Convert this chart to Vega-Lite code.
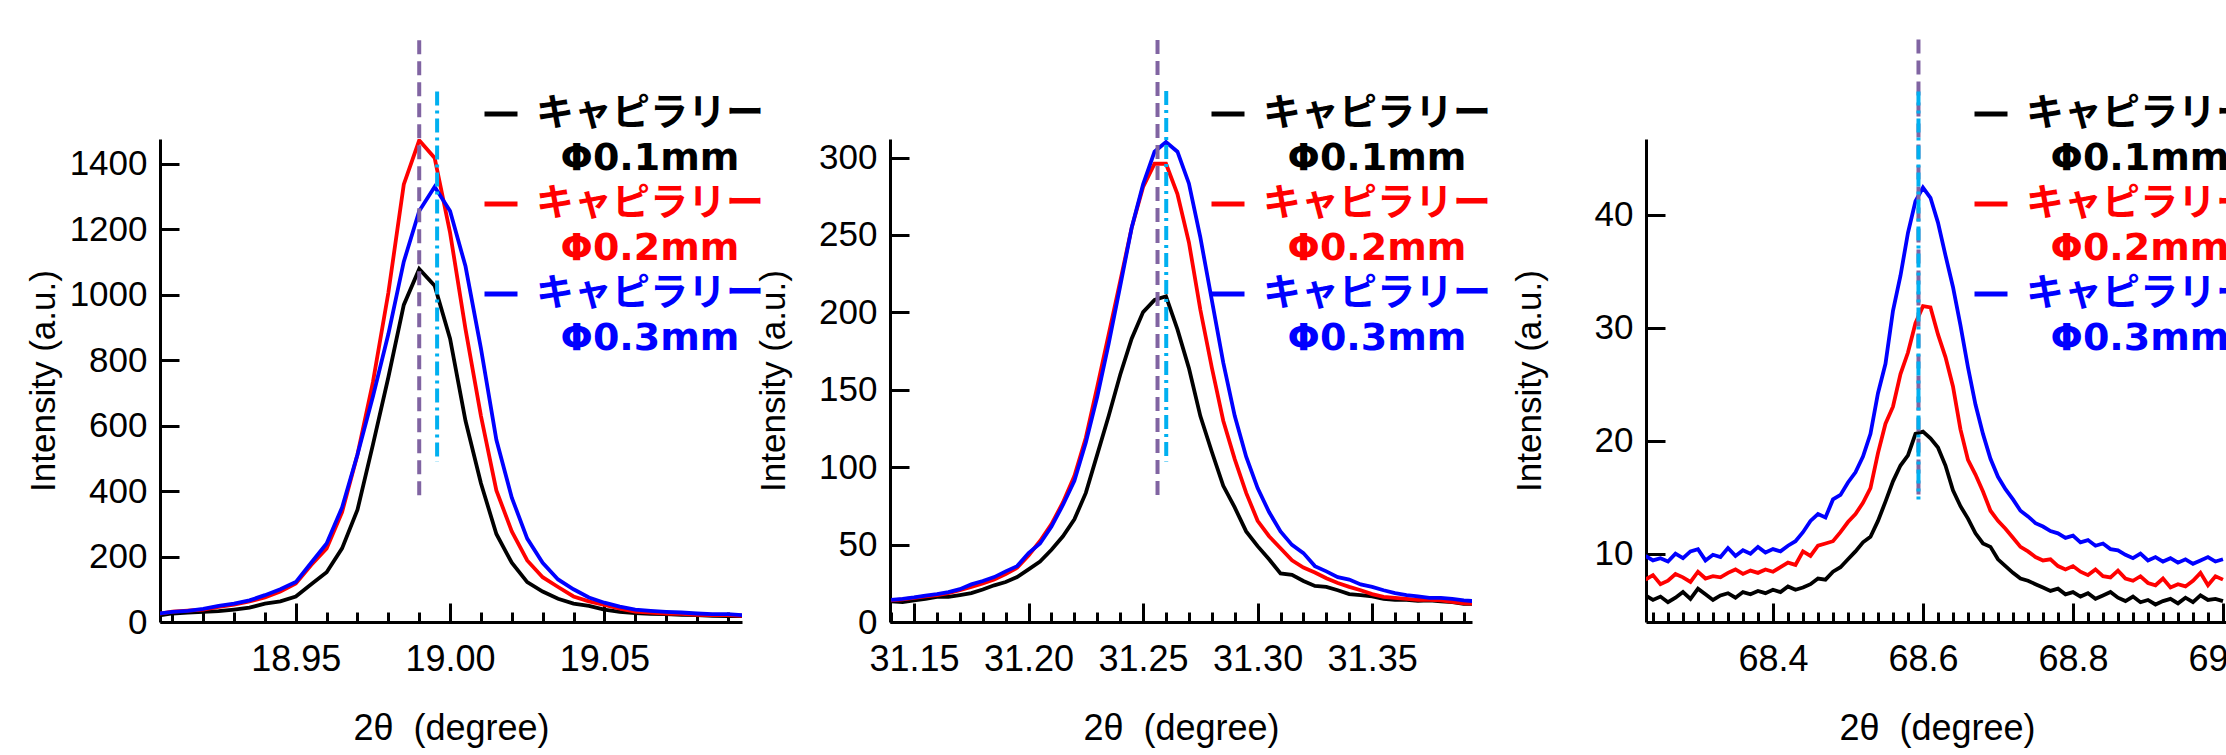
{
"$schema":"https://vega.github.io/schema/vega-lite/v6.json",
"padding":{"left":26,"top":37,"right":0,"bottom":4},
"datasets":{
"p1":[
{"s":"Φ0.1mm","x":18.905,"y":19},{"s":"Φ0.1mm","x":18.91,"y":26},{"s":"Φ0.1mm","x":18.915,"y":29},{"s":"Φ0.1mm","x":18.92,"y":31},{"s":"Φ0.1mm","x":18.925,"y":33},{"s":"Φ0.1mm","x":18.93,"y":38},{"s":"Φ0.1mm","x":18.935,"y":44},{"s":"Φ0.1mm","x":18.94,"y":56},{"s":"Φ0.1mm","x":18.945,"y":63},{"s":"Φ0.1mm","x":18.95,"y":78},{"s":"Φ0.1mm","x":18.955,"y":115},{"s":"Φ0.1mm","x":18.96,"y":152},{"s":"Φ0.1mm","x":18.965,"y":225},{"s":"Φ0.1mm","x":18.97,"y":343},{"s":"Φ0.1mm","x":18.975,"y":542},{"s":"Φ0.1mm","x":18.98,"y":748},{"s":"Φ0.1mm","x":18.985,"y":969},{"s":"Φ0.1mm","x":18.99,"y":1079},{"s":"Φ0.1mm","x":18.995,"y":1028},{"s":"Φ0.1mm","x":19.0,"y":866},{"s":"Φ0.1mm","x":19.005,"y":615},{"s":"Φ0.1mm","x":19.01,"y":424},{"s":"Φ0.1mm","x":19.015,"y":269},{"s":"Φ0.1mm","x":19.02,"y":181},{"s":"Φ0.1mm","x":19.025,"y":122},{"s":"Φ0.1mm","x":19.03,"y":93},{"s":"Φ0.1mm","x":19.035,"y":71},{"s":"Φ0.1mm","x":19.04,"y":56},{"s":"Φ0.1mm","x":19.045,"y":49},{"s":"Φ0.1mm","x":19.05,"y":38},{"s":"Φ0.1mm","x":19.055,"y":31},{"s":"Φ0.1mm","x":19.06,"y":27},{"s":"Φ0.1mm","x":19.065,"y":25},{"s":"Φ0.1mm","x":19.07,"y":24},{"s":"Φ0.1mm","x":19.075,"y":22},{"s":"Φ0.1mm","x":19.08,"y":21},{"s":"Φ0.1mm","x":19.085,"y":19},{"s":"Φ0.1mm","x":19.09,"y":18},{"s":"Φ0.1mm","x":19.095,"y":18},
{"s":"Φ0.2mm","x":18.905,"y":24},{"s":"Φ0.2mm","x":18.91,"y":32},{"s":"Φ0.2mm","x":18.915,"y":35},{"s":"Φ0.2mm","x":18.92,"y":38},{"s":"Φ0.2mm","x":18.925,"y":46},{"s":"Φ0.2mm","x":18.93,"y":53},{"s":"Φ0.2mm","x":18.935,"y":63},{"s":"Φ0.2mm","x":18.94,"y":75},{"s":"Φ0.2mm","x":18.945,"y":93},{"s":"Φ0.2mm","x":18.95,"y":118},{"s":"Φ0.2mm","x":18.955,"y":174},{"s":"Φ0.2mm","x":18.96,"y":225},{"s":"Φ0.2mm","x":18.965,"y":336},{"s":"Φ0.2mm","x":18.97,"y":512},{"s":"Φ0.2mm","x":18.975,"y":733},{"s":"Φ0.2mm","x":18.98,"y":1006},{"s":"Φ0.2mm","x":18.985,"y":1337},{"s":"Φ0.2mm","x":18.99,"y":1472},{"s":"Φ0.2mm","x":18.995,"y":1418},{"s":"Φ0.2mm","x":19.0,"y":1190},{"s":"Φ0.2mm","x":19.005,"y":895},{"s":"Φ0.2mm","x":19.01,"y":630},{"s":"Φ0.2mm","x":19.015,"y":402},{"s":"Φ0.2mm","x":19.02,"y":277},{"s":"Φ0.2mm","x":19.025,"y":188},{"s":"Φ0.2mm","x":19.03,"y":137},{"s":"Φ0.2mm","x":19.035,"y":107},{"s":"Φ0.2mm","x":19.04,"y":78},{"s":"Φ0.2mm","x":19.045,"y":63},{"s":"Φ0.2mm","x":19.05,"y":52},{"s":"Φ0.2mm","x":19.055,"y":41},{"s":"Φ0.2mm","x":19.06,"y":32},{"s":"Φ0.2mm","x":19.065,"y":29},{"s":"Φ0.2mm","x":19.07,"y":26},{"s":"Φ0.2mm","x":19.075,"y":25},{"s":"Φ0.2mm","x":19.08,"y":22},{"s":"Φ0.2mm","x":19.085,"y":21},{"s":"Φ0.2mm","x":19.09,"y":21},{"s":"Φ0.2mm","x":19.095,"y":19},
{"s":"Φ0.3mm","x":18.905,"y":25},{"s":"Φ0.3mm","x":18.91,"y":31},{"s":"Φ0.3mm","x":18.915,"y":34},{"s":"Φ0.3mm","x":18.92,"y":40},{"s":"Φ0.3mm","x":18.925,"y":49},{"s":"Φ0.3mm","x":18.93,"y":56},{"s":"Φ0.3mm","x":18.935,"y":66},{"s":"Φ0.3mm","x":18.94,"y":82},{"s":"Φ0.3mm","x":18.945,"y":100},{"s":"Φ0.3mm","x":18.95,"y":122},{"s":"Φ0.3mm","x":18.955,"y":181},{"s":"Φ0.3mm","x":18.96,"y":240},{"s":"Φ0.3mm","x":18.965,"y":350},{"s":"Φ0.3mm","x":18.97,"y":512},{"s":"Φ0.3mm","x":18.975,"y":689},{"s":"Φ0.3mm","x":18.98,"y":880},{"s":"Φ0.3mm","x":18.985,"y":1101},{"s":"Φ0.3mm","x":18.99,"y":1256},{"s":"Φ0.3mm","x":18.995,"y":1330},{"s":"Φ0.3mm","x":19.0,"y":1256},{"s":"Φ0.3mm","x":19.005,"y":1087},{"s":"Φ0.3mm","x":19.01,"y":836},{"s":"Φ0.3mm","x":19.015,"y":557},{"s":"Φ0.3mm","x":19.02,"y":380},{"s":"Φ0.3mm","x":19.025,"y":255},{"s":"Φ0.3mm","x":19.03,"y":181},{"s":"Φ0.3mm","x":19.035,"y":130},{"s":"Φ0.3mm","x":19.04,"y":100},{"s":"Φ0.3mm","x":19.045,"y":75},{"s":"Φ0.3mm","x":19.05,"y":59},{"s":"Φ0.3mm","x":19.055,"y":47},{"s":"Φ0.3mm","x":19.06,"y":38},{"s":"Φ0.3mm","x":19.065,"y":34},{"s":"Φ0.3mm","x":19.07,"y":31},{"s":"Φ0.3mm","x":19.075,"y":29},{"s":"Φ0.3mm","x":19.08,"y":26},{"s":"Φ0.3mm","x":19.085,"y":24},{"s":"Φ0.3mm","x":19.09,"y":24},{"s":"Φ0.3mm","x":19.095,"y":21}
],
"p2":[
{"s":"Φ0.1mm","x":31.14,"y":13.4},{"s":"Φ0.1mm","x":31.145,"y":12.8},{"s":"Φ0.1mm","x":31.15,"y":14},{"s":"Φ0.1mm","x":31.155,"y":15},{"s":"Φ0.1mm","x":31.16,"y":16.2},{"s":"Φ0.1mm","x":31.165,"y":16.2},{"s":"Φ0.1mm","x":31.17,"y":17.4},{"s":"Φ0.1mm","x":31.175,"y":18.7},{"s":"Φ0.1mm","x":31.18,"y":21},{"s":"Φ0.1mm","x":31.185,"y":23.7},{"s":"Φ0.1mm","x":31.19,"y":25.8},{"s":"Φ0.1mm","x":31.195,"y":29},{"s":"Φ0.1mm","x":31.2,"y":34},{"s":"Φ0.1mm","x":31.205,"y":39},{"s":"Φ0.1mm","x":31.21,"y":46.7},{"s":"Φ0.1mm","x":31.215,"y":55.4},{"s":"Φ0.1mm","x":31.22,"y":66.3},{"s":"Φ0.1mm","x":31.225,"y":83.4},{"s":"Φ0.1mm","x":31.23,"y":108.3},{"s":"Φ0.1mm","x":31.235,"y":133.2},{"s":"Φ0.1mm","x":31.24,"y":159.7},{"s":"Φ0.1mm","x":31.245,"y":183},{"s":"Φ0.1mm","x":31.25,"y":200.2},{"s":"Φ0.1mm","x":31.255,"y":208},{"s":"Φ0.1mm","x":31.26,"y":210.4},{"s":"Φ0.1mm","x":31.265,"y":189},{"s":"Φ0.1mm","x":31.27,"y":164},{"s":"Φ0.1mm","x":31.275,"y":133},{"s":"Φ0.1mm","x":31.28,"y":110},{"s":"Φ0.1mm","x":31.285,"y":88},{"s":"Φ0.1mm","x":31.29,"y":74},{"s":"Φ0.1mm","x":31.295,"y":58.5},{"s":"Φ0.1mm","x":31.3,"y":49},{"s":"Φ0.1mm","x":31.305,"y":40.5},{"s":"Φ0.1mm","x":31.31,"y":31.4},{"s":"Φ0.1mm","x":31.315,"y":30.5},{"s":"Φ0.1mm","x":31.32,"y":26.5},{"s":"Φ0.1mm","x":31.325,"y":23.3},{"s":"Φ0.1mm","x":31.33,"y":22.7},{"s":"Φ0.1mm","x":31.335,"y":20.5},{"s":"Φ0.1mm","x":31.34,"y":18},{"s":"Φ0.1mm","x":31.345,"y":17.4},{"s":"Φ0.1mm","x":31.35,"y":16.5},{"s":"Φ0.1mm","x":31.355,"y":15},{"s":"Φ0.1mm","x":31.36,"y":14.3},{"s":"Φ0.1mm","x":31.365,"y":14.3},{"s":"Φ0.1mm","x":31.37,"y":13.7},{"s":"Φ0.1mm","x":31.375,"y":14},{"s":"Φ0.1mm","x":31.38,"y":13.4},{"s":"Φ0.1mm","x":31.385,"y":12.8},{"s":"Φ0.1mm","x":31.39,"y":11.8},{"s":"Φ0.1mm","x":31.395,"y":11.8},
{"s":"Φ0.2mm","x":31.14,"y":14},{"s":"Φ0.2mm","x":31.145,"y":14.6},{"s":"Φ0.2mm","x":31.15,"y":15.6},{"s":"Φ0.2mm","x":31.155,"y":16.5},{"s":"Φ0.2mm","x":31.16,"y":17.4},{"s":"Φ0.2mm","x":31.165,"y":18.7},{"s":"Φ0.2mm","x":31.17,"y":20.5},{"s":"Φ0.2mm","x":31.175,"y":22.7},{"s":"Φ0.2mm","x":31.18,"y":24.9},{"s":"Φ0.2mm","x":31.185,"y":27.4},{"s":"Φ0.2mm","x":31.19,"y":31},{"s":"Φ0.2mm","x":31.195,"y":35},{"s":"Φ0.2mm","x":31.2,"y":43},{"s":"Φ0.2mm","x":31.205,"y":52.3},{"s":"Φ0.2mm","x":31.21,"y":63.2},{"s":"Φ0.2mm","x":31.215,"y":77.2},{"s":"Φ0.2mm","x":31.22,"y":94.3},{"s":"Φ0.2mm","x":31.225,"y":119},{"s":"Φ0.2mm","x":31.23,"y":152},{"s":"Φ0.2mm","x":31.235,"y":186},{"s":"Φ0.2mm","x":31.24,"y":220},{"s":"Φ0.2mm","x":31.245,"y":254.6},{"s":"Φ0.2mm","x":31.25,"y":281},{"s":"Φ0.2mm","x":31.255,"y":296},{"s":"Φ0.2mm","x":31.26,"y":296},{"s":"Φ0.2mm","x":31.265,"y":276.4},{"s":"Φ0.2mm","x":31.27,"y":245.3},{"s":"Φ0.2mm","x":31.275,"y":201.7},{"s":"Φ0.2mm","x":31.28,"y":164.4},{"s":"Φ0.2mm","x":31.285,"y":130},{"s":"Φ0.2mm","x":31.29,"y":105.2},{"s":"Φ0.2mm","x":31.295,"y":83.4},{"s":"Φ0.2mm","x":31.3,"y":65.4},{"s":"Φ0.2mm","x":31.305,"y":55.4},{"s":"Φ0.2mm","x":31.31,"y":47.6},{"s":"Φ0.2mm","x":31.315,"y":39.8},{"s":"Φ0.2mm","x":31.32,"y":35.2},{"s":"Φ0.2mm","x":31.325,"y":32},{"s":"Φ0.2mm","x":31.33,"y":28.3},{"s":"Φ0.2mm","x":31.335,"y":25.2},{"s":"Φ0.2mm","x":31.34,"y":22.7},{"s":"Φ0.2mm","x":31.345,"y":20.5},{"s":"Φ0.2mm","x":31.35,"y":18},{"s":"Φ0.2mm","x":31.355,"y":16.2},{"s":"Φ0.2mm","x":31.36,"y":15.6},{"s":"Φ0.2mm","x":31.365,"y":15},{"s":"Φ0.2mm","x":31.37,"y":14.3},{"s":"Φ0.2mm","x":31.375,"y":14.3},{"s":"Φ0.2mm","x":31.38,"y":14},{"s":"Φ0.2mm","x":31.385,"y":13},{"s":"Φ0.2mm","x":31.39,"y":12.1},{"s":"Φ0.2mm","x":31.395,"y":11.8},
{"s":"Φ0.3mm","x":31.14,"y":14.3},{"s":"Φ0.3mm","x":31.145,"y":15},{"s":"Φ0.3mm","x":31.15,"y":15.9},{"s":"Φ0.3mm","x":31.155,"y":17.1},{"s":"Φ0.3mm","x":31.16,"y":18},{"s":"Φ0.3mm","x":31.165,"y":19.3},{"s":"Φ0.3mm","x":31.17,"y":21.2},{"s":"Φ0.3mm","x":31.175,"y":24.3},{"s":"Φ0.3mm","x":31.18,"y":26.5},{"s":"Φ0.3mm","x":31.185,"y":29},{"s":"Φ0.3mm","x":31.19,"y":32.7},{"s":"Φ0.3mm","x":31.195,"y":36.1},{"s":"Φ0.3mm","x":31.2,"y":44.5},{"s":"Φ0.3mm","x":31.205,"y":50.7},{"s":"Φ0.3mm","x":31.21,"y":61.6},{"s":"Φ0.3mm","x":31.215,"y":75.6},{"s":"Φ0.3mm","x":31.22,"y":91.2},{"s":"Φ0.3mm","x":31.225,"y":116},{"s":"Φ0.3mm","x":31.23,"y":145.7},{"s":"Φ0.3mm","x":31.235,"y":180},{"s":"Φ0.3mm","x":31.24,"y":217},{"s":"Φ0.3mm","x":31.245,"y":254.6},{"s":"Φ0.3mm","x":31.25,"y":282.7},{"s":"Φ0.3mm","x":31.255,"y":303.8},{"s":"Φ0.3mm","x":31.26,"y":310},{"s":"Φ0.3mm","x":31.265,"y":303.8},{"s":"Φ0.3mm","x":31.27,"y":283.3},{"s":"Φ0.3mm","x":31.275,"y":248.4},{"s":"Φ0.3mm","x":31.28,"y":208},{"s":"Φ0.3mm","x":31.285,"y":167.5},{"s":"Φ0.3mm","x":31.29,"y":133.2},{"s":"Φ0.3mm","x":31.295,"y":106.8},{"s":"Φ0.3mm","x":31.3,"y":86.5},{"s":"Φ0.3mm","x":31.305,"y":71},{"s":"Φ0.3mm","x":31.31,"y":58.5},{"s":"Φ0.3mm","x":31.315,"y":49.8},{"s":"Φ0.3mm","x":31.32,"y":44.5},{"s":"Φ0.3mm","x":31.325,"y":36.1},{"s":"Φ0.3mm","x":31.33,"y":32.7},{"s":"Φ0.3mm","x":31.335,"y":29},{"s":"Φ0.3mm","x":31.34,"y":27.4},{"s":"Φ0.3mm","x":31.345,"y":24.3},{"s":"Φ0.3mm","x":31.35,"y":22.7},{"s":"Φ0.3mm","x":31.355,"y":20.5},{"s":"Φ0.3mm","x":31.36,"y":18.7},{"s":"Φ0.3mm","x":31.365,"y":17.4},{"s":"Φ0.3mm","x":31.37,"y":16.5},{"s":"Φ0.3mm","x":31.375,"y":15.6},{"s":"Φ0.3mm","x":31.38,"y":15.6},{"s":"Φ0.3mm","x":31.385,"y":15},{"s":"Φ0.3mm","x":31.39,"y":14},{"s":"Φ0.3mm","x":31.395,"y":13.4}
],
"p3":[
{"s":"Φ0.1mm","x":68.23,"y":6.3},{"s":"Φ0.1mm","x":68.24,"y":5.9},{"s":"Φ0.1mm","x":68.25,"y":6.2},{"s":"Φ0.1mm","x":68.26,"y":5.7},{"s":"Φ0.1mm","x":68.27,"y":6.1},{"s":"Φ0.1mm","x":68.28,"y":6.6},{"s":"Φ0.1mm","x":68.29,"y":6.0},{"s":"Φ0.1mm","x":68.3,"y":6.9},{"s":"Φ0.1mm","x":68.31,"y":6.4},{"s":"Φ0.1mm","x":68.32,"y":5.9},
{"s":"Φ0.1mm","x":68.33,"y":6.3},{"s":"Φ0.1mm","x":68.34,"y":6.5},{"s":"Φ0.1mm","x":68.35,"y":6.1},{"s":"Φ0.1mm","x":68.36,"y":6.6},{"s":"Φ0.1mm","x":68.37,"y":6.4},{"s":"Φ0.1mm","x":68.38,"y":6.7},{"s":"Φ0.1mm","x":68.39,"y":6.5},{"s":"Φ0.1mm","x":68.4,"y":6.8},{"s":"Φ0.1mm","x":68.41,"y":6.6},{"s":"Φ0.1mm","x":68.42,"y":7.1},
{"s":"Φ0.1mm","x":68.43,"y":6.8},{"s":"Φ0.1mm","x":68.44,"y":7.0},{"s":"Φ0.1mm","x":68.45,"y":7.3},{"s":"Φ0.1mm","x":68.46,"y":7.8},{"s":"Φ0.1mm","x":68.47,"y":7.7},{"s":"Φ0.1mm","x":68.48,"y":8.4},{"s":"Φ0.1mm","x":68.49,"y":8.8},{"s":"Φ0.1mm","x":68.5,"y":9.5},{"s":"Φ0.1mm","x":68.51,"y":10.2},{"s":"Φ0.1mm","x":68.52,"y":11.0},
{"s":"Φ0.1mm","x":68.53,"y":11.5},{"s":"Φ0.1mm","x":68.54,"y":12.9},{"s":"Φ0.1mm","x":68.55,"y":14.6},{"s":"Φ0.1mm","x":68.56,"y":16.4},{"s":"Φ0.1mm","x":68.57,"y":17.8},{"s":"Φ0.1mm","x":68.58,"y":18.7},{"s":"Φ0.1mm","x":68.59,"y":20.6},{"s":"Φ0.1mm","x":68.6,"y":20.8},{"s":"Φ0.1mm","x":68.61,"y":20.2},{"s":"Φ0.1mm","x":68.62,"y":19.4},
{"s":"Φ0.1mm","x":68.63,"y":17.8},{"s":"Φ0.1mm","x":68.64,"y":15.6},{"s":"Φ0.1mm","x":68.65,"y":14.2},{"s":"Φ0.1mm","x":68.66,"y":13.1},{"s":"Φ0.1mm","x":68.67,"y":11.8},{"s":"Φ0.1mm","x":68.68,"y":10.9},{"s":"Φ0.1mm","x":68.69,"y":10.6},{"s":"Φ0.1mm","x":68.7,"y":9.5},{"s":"Φ0.1mm","x":68.71,"y":8.9},{"s":"Φ0.1mm","x":68.72,"y":8.3},
{"s":"Φ0.1mm","x":68.73,"y":7.8},{"s":"Φ0.1mm","x":68.74,"y":7.6},{"s":"Φ0.1mm","x":68.75,"y":7.3},{"s":"Φ0.1mm","x":68.76,"y":7.0},{"s":"Φ0.1mm","x":68.77,"y":6.7},{"s":"Φ0.1mm","x":68.78,"y":6.9},{"s":"Φ0.1mm","x":68.79,"y":6.4},{"s":"Φ0.1mm","x":68.8,"y":6.6},{"s":"Φ0.1mm","x":68.81,"y":6.2},{"s":"Φ0.1mm","x":68.82,"y":6.5},
{"s":"Φ0.1mm","x":68.83,"y":6.0},{"s":"Φ0.1mm","x":68.84,"y":6.3},{"s":"Φ0.1mm","x":68.85,"y":6.6},{"s":"Φ0.1mm","x":68.86,"y":6.1},{"s":"Φ0.1mm","x":68.87,"y":5.8},{"s":"Φ0.1mm","x":68.88,"y":6.2},{"s":"Φ0.1mm","x":68.89,"y":5.7},{"s":"Φ0.1mm","x":68.9,"y":5.9},{"s":"Φ0.1mm","x":68.91,"y":5.5},{"s":"Φ0.1mm","x":68.92,"y":5.8},
{"s":"Φ0.1mm","x":68.93,"y":6.0},{"s":"Φ0.1mm","x":68.94,"y":5.6},{"s":"Φ0.1mm","x":68.95,"y":6.1},{"s":"Φ0.1mm","x":68.96,"y":5.7},{"s":"Φ0.1mm","x":68.97,"y":6.3},{"s":"Φ0.1mm","x":68.98,"y":5.9},{"s":"Φ0.1mm","x":68.99,"y":6.0},{"s":"Φ0.1mm","x":69.0,"y":5.8},
{"s":"Φ0.2mm","x":68.23,"y":7.7},{"s":"Φ0.2mm","x":68.24,"y":8.1},{"s":"Φ0.2mm","x":68.25,"y":7.3},{"s":"Φ0.2mm","x":68.26,"y":7.6},{"s":"Φ0.2mm","x":68.27,"y":8.2},{"s":"Φ0.2mm","x":68.28,"y":7.9},{"s":"Φ0.2mm","x":68.29,"y":7.5},{"s":"Φ0.2mm","x":68.3,"y":8.4},{"s":"Φ0.2mm","x":68.31,"y":7.8},{"s":"Φ0.2mm","x":68.32,"y":8.0},
{"s":"Φ0.2mm","x":68.33,"y":7.9},{"s":"Φ0.2mm","x":68.34,"y":8.3},{"s":"Φ0.2mm","x":68.35,"y":8.6},{"s":"Φ0.2mm","x":68.36,"y":8.2},{"s":"Φ0.2mm","x":68.37,"y":8.5},{"s":"Φ0.2mm","x":68.38,"y":8.3},{"s":"Φ0.2mm","x":68.39,"y":8.6},{"s":"Φ0.2mm","x":68.4,"y":8.4},{"s":"Φ0.2mm","x":68.41,"y":8.8},{"s":"Φ0.2mm","x":68.42,"y":9.2},
{"s":"Φ0.2mm","x":68.43,"y":9.0},{"s":"Φ0.2mm","x":68.44,"y":10.2},{"s":"Φ0.2mm","x":68.45,"y":9.8},{"s":"Φ0.2mm","x":68.46,"y":10.7},{"s":"Φ0.2mm","x":68.47,"y":10.9},{"s":"Φ0.2mm","x":68.48,"y":11.1},{"s":"Φ0.2mm","x":68.49,"y":11.9},{"s":"Φ0.2mm","x":68.5,"y":12.8},{"s":"Φ0.2mm","x":68.51,"y":13.5},{"s":"Φ0.2mm","x":68.52,"y":14.5},
{"s":"Φ0.2mm","x":68.53,"y":15.8},{"s":"Φ0.2mm","x":68.54,"y":18.9},{"s":"Φ0.2mm","x":68.55,"y":21.5},{"s":"Φ0.2mm","x":68.56,"y":23.0},{"s":"Φ0.2mm","x":68.57,"y":25.9},{"s":"Φ0.2mm","x":68.58,"y":27.8},{"s":"Φ0.2mm","x":68.59,"y":30.4},{"s":"Φ0.2mm","x":68.6,"y":31.9},{"s":"Φ0.2mm","x":68.61,"y":31.8},{"s":"Φ0.2mm","x":68.62,"y":29.4},
{"s":"Φ0.2mm","x":68.63,"y":27.4},{"s":"Φ0.2mm","x":68.64,"y":24.8},{"s":"Φ0.2mm","x":68.65,"y":21.0},{"s":"Φ0.2mm","x":68.66,"y":18.3},{"s":"Φ0.2mm","x":68.67,"y":17.0},{"s":"Φ0.2mm","x":68.68,"y":15.5},{"s":"Φ0.2mm","x":68.69,"y":13.8},{"s":"Φ0.2mm","x":68.7,"y":12.9},{"s":"Φ0.2mm","x":68.71,"y":12.2},{"s":"Φ0.2mm","x":68.72,"y":11.4},
{"s":"Φ0.2mm","x":68.73,"y":10.6},{"s":"Φ0.2mm","x":68.74,"y":10.2},{"s":"Φ0.2mm","x":68.75,"y":9.7},{"s":"Φ0.2mm","x":68.76,"y":9.4},{"s":"Φ0.2mm","x":68.77,"y":9.5},{"s":"Φ0.2mm","x":68.78,"y":8.9},{"s":"Φ0.2mm","x":68.79,"y":8.6},{"s":"Φ0.2mm","x":68.8,"y":8.9},{"s":"Φ0.2mm","x":68.81,"y":8.4},{"s":"Φ0.2mm","x":68.82,"y":8.1},
{"s":"Φ0.2mm","x":68.83,"y":8.6},{"s":"Φ0.2mm","x":68.84,"y":8.0},{"s":"Φ0.2mm","x":68.85,"y":7.9},{"s":"Φ0.2mm","x":68.86,"y":8.5},{"s":"Φ0.2mm","x":68.87,"y":7.8},{"s":"Φ0.2mm","x":68.88,"y":7.6},{"s":"Φ0.2mm","x":68.89,"y":8.0},{"s":"Φ0.2mm","x":68.9,"y":7.4},{"s":"Φ0.2mm","x":68.91,"y":7.2},{"s":"Φ0.2mm","x":68.92,"y":7.8},
{"s":"Φ0.2mm","x":68.93,"y":7.0},{"s":"Φ0.2mm","x":68.94,"y":7.3},{"s":"Φ0.2mm","x":68.95,"y":7.1},{"s":"Φ0.2mm","x":68.96,"y":7.6},{"s":"Φ0.2mm","x":68.97,"y":8.3},{"s":"Φ0.2mm","x":68.98,"y":7.2},{"s":"Φ0.2mm","x":68.99,"y":8.0},{"s":"Φ0.2mm","x":69.0,"y":7.7},
{"s":"Φ0.3mm","x":68.23,"y":9.8},{"s":"Φ0.3mm","x":68.24,"y":9.4},{"s":"Φ0.3mm","x":68.25,"y":9.6},{"s":"Φ0.3mm","x":68.26,"y":9.3},{"s":"Φ0.3mm","x":68.27,"y":10.0},{"s":"Φ0.3mm","x":68.28,"y":9.6},{"s":"Φ0.3mm","x":68.29,"y":10.2},{"s":"Φ0.3mm","x":68.3,"y":10.4},{"s":"Φ0.3mm","x":68.31,"y":9.4},{"s":"Φ0.3mm","x":68.32,"y":9.9},
{"s":"Φ0.3mm","x":68.33,"y":9.7},{"s":"Φ0.3mm","x":68.34,"y":10.5},{"s":"Φ0.3mm","x":68.35,"y":9.8},{"s":"Φ0.3mm","x":68.36,"y":10.3},{"s":"Φ0.3mm","x":68.37,"y":10.0},{"s":"Φ0.3mm","x":68.38,"y":10.6},{"s":"Φ0.3mm","x":68.39,"y":10.1},{"s":"Φ0.3mm","x":68.4,"y":10.4},{"s":"Φ0.3mm","x":68.41,"y":10.2},{"s":"Φ0.3mm","x":68.42,"y":10.7},
{"s":"Φ0.3mm","x":68.43,"y":11.1},{"s":"Φ0.3mm","x":68.44,"y":11.9},{"s":"Φ0.3mm","x":68.45,"y":12.9},{"s":"Φ0.3mm","x":68.46,"y":13.5},{"s":"Φ0.3mm","x":68.47,"y":13.2},{"s":"Φ0.3mm","x":68.48,"y":14.8},{"s":"Φ0.3mm","x":68.49,"y":15.2},{"s":"Φ0.3mm","x":68.5,"y":16.3},{"s":"Φ0.3mm","x":68.51,"y":17.2},{"s":"Φ0.3mm","x":68.52,"y":18.6},
{"s":"Φ0.3mm","x":68.53,"y":20.6},{"s":"Φ0.3mm","x":68.54,"y":24.2},{"s":"Φ0.3mm","x":68.55,"y":26.8},{"s":"Φ0.3mm","x":68.56,"y":31.5},{"s":"Φ0.3mm","x":68.57,"y":34.6},{"s":"Φ0.3mm","x":68.58,"y":38.4},{"s":"Φ0.3mm","x":68.59,"y":41.2},{"s":"Φ0.3mm","x":68.6,"y":42.4},{"s":"Φ0.3mm","x":68.61,"y":41.5},{"s":"Φ0.3mm","x":68.62,"y":39.3},
{"s":"Φ0.3mm","x":68.63,"y":36.4},{"s":"Φ0.3mm","x":68.64,"y":33.6},{"s":"Φ0.3mm","x":68.65,"y":30.2},{"s":"Φ0.3mm","x":68.66,"y":26.5},{"s":"Φ0.3mm","x":68.67,"y":23.2},{"s":"Φ0.3mm","x":68.68,"y":20.6},{"s":"Φ0.3mm","x":68.69,"y":18.4},{"s":"Φ0.3mm","x":68.7,"y":16.8},{"s":"Φ0.3mm","x":68.71,"y":15.7},{"s":"Φ0.3mm","x":68.72,"y":14.8},
{"s":"Φ0.3mm","x":68.73,"y":13.8},{"s":"Φ0.3mm","x":68.74,"y":13.3},{"s":"Φ0.3mm","x":68.75,"y":12.7},{"s":"Φ0.3mm","x":68.76,"y":12.4},{"s":"Φ0.3mm","x":68.77,"y":12.0},{"s":"Φ0.3mm","x":68.78,"y":11.8},{"s":"Φ0.3mm","x":68.79,"y":11.4},{"s":"Φ0.3mm","x":68.8,"y":11.6},{"s":"Φ0.3mm","x":68.81,"y":11.0},{"s":"Φ0.3mm","x":68.82,"y":11.2},
{"s":"Φ0.3mm","x":68.83,"y":10.7},{"s":"Φ0.3mm","x":68.84,"y":10.9},{"s":"Φ0.3mm","x":68.85,"y":10.4},{"s":"Φ0.3mm","x":68.86,"y":10.3},{"s":"Φ0.3mm","x":68.87,"y":9.9},{"s":"Φ0.3mm","x":68.88,"y":9.6},{"s":"Φ0.3mm","x":68.89,"y":10.0},{"s":"Φ0.3mm","x":68.9,"y":9.4},{"s":"Φ0.3mm","x":68.91,"y":9.7},{"s":"Φ0.3mm","x":68.92,"y":9.3},
{"s":"Φ0.3mm","x":68.93,"y":9.6},{"s":"Φ0.3mm","x":68.94,"y":9.2},{"s":"Φ0.3mm","x":68.95,"y":9.5},{"s":"Φ0.3mm","x":68.96,"y":9.1},{"s":"Φ0.3mm","x":68.97,"y":9.4},{"s":"Φ0.3mm","x":68.98,"y":9.7},{"s":"Φ0.3mm","x":68.99,"y":9.3},{"s":"Φ0.3mm","x":69.0,"y":9.5}
],
"r":[
{"p":1,"t":"a","x":18.990,"y1":372,"y2":1778},
{"p":1,"t":"b","x":18.9958,"y1":490,"y2":1621},
{"p":2,"t":"a","x":31.2563,"y1":78.7,"y2":376},
{"p":2,"t":"b","x":31.2601,"y1":103.6,"y2":343},
{"p":3,"t":"a","x":68.594,"y1":14.74,"y2":55.5},
{"p":3,"t":"b","x":68.594,"y1":14.8,"y2":50.9}
]
},
"hconcat":[
{"hconcat":[
{
"width":582,"height":483,
"resolve":{"axis":{"x":"independent"}},
"layer":[
{"data":{"name":"p1"},
"mark":{"type":"line","strokeWidth":3.8,"clip":true},
"encoding":{
"x":{"field":"x","type":"quantitative","scale":{"domain":[18.906,19.0946],"nice":false,"zero":false},
"axis":{"orient":"bottom","values":[18.95,19.0,19.05],"format":".2f","tickSize":-19,"labelPadding":39,"labelFontSize":36,"title":"2θ\u00a0 (degree)","titleFontSize":36,"titleY":117,"titleBaseline":"alphabetic"}},
"y":{"field":"y","type":"quantitative","scale":{"domain":[0,1476],"nice":false,"zero":false},
"axis":{"values":[0,200,400,600,800,1000,1200,1400],"format":"d","tickSize":-19,"labelPadding":32,"title":"Intensity (a.u.)","titleX":-99,"titleBaseline":"bottom"}},
"color":{"field":"s","type":"nominal","scale":{"domain":["Φ0.1mm","Φ0.2mm","Φ0.3mm"],"range":["#000000","#ff0000","#0000ff"]},
"legend":{"orient":"none","legendX":322,"legendY":-44,"labelExpr":"['キャピラリー', datum.label]","labelColor":{"expr":"datum.value == 'Φ0.1mm' ? '#000000' : datum.value == 'Φ0.2mm' ? '#ff0000' : '#0000ff'"},"encoding":{"labels":{"lineHeight":{"value":45}},"symbols":{"strokeWidth":{"value":5}}}}}
}},
{"data":{"name":"r"},"transform":[{"filter":"datum.p == 1 && datum.t == 'a'"}],
"mark":{"type":"rule","color":"#8064A2","strokeWidth":4,"strokeDash":[14,7]},
"encoding":{
"x":{"field":"x","type":"quantitative","scale":{"domain":[18.906,19.0946],"nice":false,"zero":false},
"axis":{"orient":"bottom","values":[18.91,18.92,18.93,18.94,18.95,18.96,18.97,18.98,18.99,19.0,19.01,19.02,19.03,19.04,19.05,19.06,19.07,19.08,19.09],"tickSize":-10,"labels":false,"domain":false,"title":null}},
"y":{"field":"y2","type":"quantitative","scale":{"domain":[0,1476],"nice":false,"zero":false},
"axis":{"values":[0,200,400,600,800,1000,1200,1400],"format":"d","tickSize":-19,"labelPadding":32,"title":"Intensity (a.u.)","titleX":-99,"titleBaseline":"bottom"}},
"y2":{"field":"y1"}
}},
{"data":{"name":"r"},"transform":[{"filter":"datum.p == 1 && datum.t == 'b'"}],
"mark":{"type":"rule","color":"#00B0F0","strokeWidth":4,"strokeDash":[14,5,3,5]},
"encoding":{
"x":{"field":"x","type":"quantitative","scale":{"domain":[18.906,19.0946],"nice":false,"zero":false},"axis":null},
"y":{"field":"y2","type":"quantitative","scale":{"domain":[0,1476],"nice":false,"zero":false},
"axis":{"values":[0,200,400,600,800,1000,1200,1400],"format":"d","tickSize":-19,"labelPadding":32,"title":"Intensity (a.u.)","titleX":-99,"titleBaseline":"bottom"}},
"y2":{"field":"y1"}
}}
]
},
{
"width":582,"height":483,
"resolve":{"axis":{"x":"independent"}},
"layer":[
{"data":{"name":"p2"},
"mark":{"type":"line","strokeWidth":3.8,"clip":true},
"encoding":{
"x":{"field":"x","type":"quantitative","scale":{"domain":[31.1395,31.3936],"nice":false,"zero":false},
"axis":{"orient":"bottom","values":[31.15,31.2,31.25,31.3,31.35],"format":".2f","tickSize":-19,"labelPadding":39,"labelFontSize":36,"title":"2θ\u00a0 (degree)","titleFontSize":36,"titleY":117,"titleBaseline":"alphabetic"}},
"y":{"field":"y","type":"quantitative","scale":{"domain":[0,312],"nice":false,"zero":false},
"axis":{"values":[0,50,100,150,200,250,300],"tickSize":-19,"labelPadding":32,"title":"Intensity (a.u.)","titleX":-99,"titleBaseline":"bottom"}},
"color":{"field":"s","type":"nominal","scale":{"domain":["Φ0.1mm","Φ0.2mm","Φ0.3mm"],"range":["#000000","#ff0000","#0000ff"]},
"legend":{"orient":"none","legendX":319,"legendY":-44,"labelExpr":"['キャピラリー', datum.label]","labelColor":{"expr":"datum.value == 'Φ0.1mm' ? '#000000' : datum.value == 'Φ0.2mm' ? '#ff0000' : '#0000ff'"},"encoding":{"labels":{"lineHeight":{"value":45}},"symbols":{"strokeWidth":{"value":5}}}}}
}},
{"data":{"name":"r"},"transform":[{"filter":"datum.p == 2 && datum.t == 'a'"}],
"mark":{"type":"rule","color":"#8064A2","strokeWidth":4,"strokeDash":[14,7]},
"encoding":{
"x":{"field":"x","type":"quantitative","scale":{"domain":[31.1395,31.3936],"nice":false,"zero":false},
"axis":{"orient":"bottom","values":[31.14,31.15,31.16,31.17,31.18,31.19,31.2,31.21,31.22,31.23,31.24,31.25,31.26,31.27,31.28,31.29,31.3,31.31,31.32,31.33,31.34,31.35,31.36,31.37,31.38,31.39],"tickSize":-10,"labels":false,"domain":false,"title":null}},
"y":{"field":"y2","type":"quantitative","scale":{"domain":[0,312],"nice":false,"zero":false},
"axis":{"values":[0,50,100,150,200,250,300],"tickSize":-19,"labelPadding":32,"title":"Intensity (a.u.)","titleX":-99,"titleBaseline":"bottom"}},
"y2":{"field":"y1"}
}},
{"data":{"name":"r"},"transform":[{"filter":"datum.p == 2 && datum.t == 'b'"}],
"mark":{"type":"rule","color":"#00B0F0","strokeWidth":4,"strokeDash":[14,5,3,5]},
"encoding":{
"x":{"field":"x","type":"quantitative","scale":{"domain":[31.1395,31.3936],"nice":false,"zero":false},"axis":null},
"y":{"field":"y2","type":"quantitative","scale":{"domain":[0,312],"nice":false,"zero":false},
"axis":{"values":[0,50,100,150,200,250,300],"tickSize":-19,"labelPadding":32,"title":"Intensity (a.u.)","titleX":-99,"titleBaseline":"bottom"}},
"y2":{"field":"y1"}
}}
]
}
],"spacing":148,"bounds":"flush",
"resolve":{"scale":{"color":"independent"},"legend":{"color":"independent"}}
},
{
"width":582,"height":483,
"resolve":{"axis":{"x":"independent"}},
"layer":[
{"data":{"name":"p3"},
"mark":{"type":"line","strokeWidth":3.8,"clip":true},
"encoding":{
"x":{"field":"x","type":"quantitative","scale":{"domain":[68.2307,69.0067],"nice":false,"zero":false},
"axis":{"orient":"bottom","values":[68.4,68.6,68.8,69.0],"format":".1f","tickSize":-19,"labelPadding":39,"labelFontSize":36,"title":"2θ\u00a0 (degree)","titleFontSize":36,"titleY":117,"titleBaseline":"alphabetic"}},
"y":{"field":"y","type":"quantitative","scale":{"domain":[3.95,46.7],"nice":false,"zero":false},
"axis":{"values":[10,20,30,40],"tickSize":-19,"labelPadding":32,"title":"Intensity (a.u.)","titleX":-99,"titleBaseline":"bottom"}},
"color":{"field":"s","type":"nominal","scale":{"domain":["Φ0.1mm","Φ0.2mm","Φ0.3mm"],"range":["#000000","#ff0000","#0000ff"]},
"legend":{"orient":"none","legendX":326,"legendY":-44,"labelExpr":"['キャピラリー', datum.label]","labelColor":{"expr":"datum.value == 'Φ0.1mm' ? '#000000' : datum.value == 'Φ0.2mm' ? '#ff0000' : '#0000ff'"},"encoding":{"labels":{"lineHeight":{"value":45}},"symbols":{"strokeWidth":{"value":5}}}}}
}},
{"data":{"name":"r"},"transform":[{"filter":"datum.p == 3 && datum.t == 'a'"}],
"mark":{"type":"rule","color":"#8064A2","strokeWidth":4,"strokeDash":[14,7]},
"encoding":{
"x":{"field":"x","type":"quantitative","scale":{"domain":[68.2307,69.0067],"nice":false,"zero":false},
"axis":{"orient":"bottom","values":[68.24,68.26,68.28,68.3,68.32,68.34,68.36,68.38,68.4,68.42,68.44,68.46,68.48,68.5,68.52,68.54,68.56,68.58,68.6,68.62,68.64,68.66,68.68,68.7,68.72,68.74,68.76,68.78,68.8,68.82,68.84,68.86,68.88,68.9,68.92,68.94,68.96,68.98,69.0],"tickSize":-10,"labels":false,"domain":false,"title":null}},
"y":{"field":"y2","type":"quantitative","scale":{"domain":[3.95,46.7],"nice":false,"zero":false},
"axis":{"values":[10,20,30,40],"tickSize":-19,"labelPadding":32,"title":"Intensity (a.u.)","titleX":-99,"titleBaseline":"bottom"}},
"y2":{"field":"y1"}
}},
{"data":{"name":"r"},"transform":[{"filter":"datum.p == 3 && datum.t == 'b'"}],
"mark":{"type":"rule","color":"#00B0F0","strokeWidth":4,"strokeDash":[14,5,3,5]},
"encoding":{
"x":{"field":"x","type":"quantitative","scale":{"domain":[68.2307,69.0067],"nice":false,"zero":false},"axis":null},
"y":{"field":"y2","type":"quantitative","scale":{"domain":[3.95,46.7],"nice":false,"zero":false},
"axis":{"values":[10,20,30,40],"tickSize":-19,"labelPadding":32,"title":"Intensity (a.u.)","titleX":-99,"titleBaseline":"bottom"}},
"y2":{"field":"y1"}
}}
]
}
],
"spacing":20,
"resolve":{"scale":{"color":"independent"},"legend":{"color":"independent"}},
"config":{
"view":{"stroke":null},
"axis":{"domainColor":"#000000","tickColor":"#000000","labelColor":"#000000","titleColor":"#000000","labelFont":"Liberation Sans","titleFont":"Liberation Sans","grid":false,"labelFlush":false,"labelOverlap":false,"domainWidth":3,"tickWidth":3,"titleFontWeight":"normal","titleFontSize":35,"labelFontSize":35},
"legend":{"title":null,"symbolType":"stroke","symbolSize":1089,"symbolStrokeWidth":5,"labelFont":"DejaVu Sans, Noto Sans CJK JP","labelFontSize":38,"labelFontWeight":"bold","labelLimit":0,"labelAlign":"center","labelOffset":130,"labelBaseline":"middle","rowPadding":7,"padding":0}
}
}
